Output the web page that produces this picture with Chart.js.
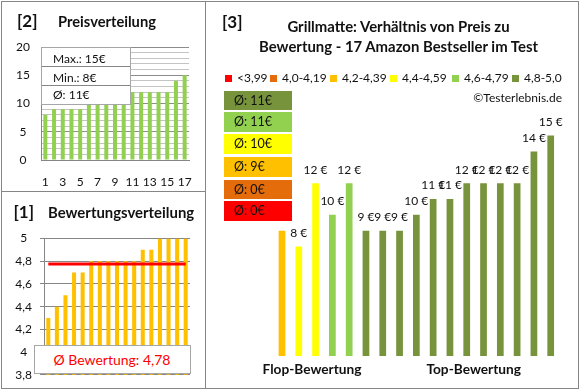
<!DOCTYPE html>
<html><head><meta charset="utf-8">
<script src="https://cdn.jsdelivr.net/npm/chart.js@4.4.1/dist/chart.umd.min.js"></script>
<style>
body{margin:0;background:#fff}
#root{position:relative;width:580px;height:390px;overflow:hidden;font-family:Lato,sans-serif;color:#111;background:#fff}
canvas{position:absolute}
.t{position:absolute;white-space:nowrap;height:20px;line-height:20px}
.ln{position:absolute;background:#868686}
.box{position:absolute;background:#fff;border:1px solid #a6a6a6;box-sizing:border-box}
</style></head><body>
<div id="root">
<canvas id="c2" width="205" height="192" style="left:0;top:0"></canvas>
<canvas id="c1" width="205" height="198" style="left:0;top:192px"></canvas>
<canvas id="c3" width="375" height="390" style="left:205px;top:0"></canvas>
</div>
<script>
// ---------- data ----------
const ranks = ['1','2','3','4','5','6','7','8','9','10','11','12','13','14','15','16','17'];
const ratings = [4.3,4.4,4.5,4.7,4.7,4.8,4.8,4.8,4.8,4.8,4.8,4.9,4.9,5,5,5,5];
const prices = [9,8,12,10,12,9,9,9,10,11,11,12,12,12,12,14,15]; // ordered like ratings
const pricesSorted = [8,9,9,9,9,10,10,11,11,12,12,12,12,12,12,14,15];
const legendLabels = ['<3,99','4,0-4,19','4,2-4,39','4,4-4,59','4,6-4,79','4,8-5,0'];
const bucketMins = [0,4.0,4.2,4.4,4.6,4.8];
const bucketColors = ['#FF0000','#E46C0A','#FFC000','#FFFF00','#92D050','#77933C'];
const groupLabels = ['Flop-Bewertung','Top-Bewertung'];
const priceTicks = [0,5,10,15,20];

Chart.defaults.font.family = 'Lato, sans-serif';
Chart.defaults.color = '#111';
Chart.defaults.animation = false;
const root = document.getElementById('root');

function T(text, x, y, o = {}) {
  const d = document.createElement('div');
  d.className = 't';
  d.textContent = text;
  d.style.left = x + 'px';
  d.style.top = (y - 10) + 'px';
  d.style.fontSize = (o.size || 12) + 'px';
  if (o.bold) d.style.fontWeight = 'bold';
  if (o.color) d.style.color = o.color;
  if (o.align === 'center') d.style.transform = 'translateX(-50%)';
  if (o.align === 'right') d.style.transform = 'translateX(-100%)';
  root.appendChild(d);
  return d;
}
function L(x, y, w, h) {
  const d = document.createElement('div');
  d.className = 'ln';
  Object.assign(d.style, {left: x + 'px', top: y + 'px', width: w + 'px', height: h + 'px'});
  root.appendChild(d);
}
function B(x, y, w, h, bg, border) {
  const d = document.createElement('div');
  d.className = 'box';
  Object.assign(d.style, {left: x + 'px', top: y + 'px', width: w + 'px', height: h + 'px'});
  if (bg) d.style.background = bg;
  if (border === false) d.style.border = 'none';
  root.appendChild(d);
  return d;
}
const fmt = v => String(v).replace('.', ',');
const bucketOf = r => { let b = 0; bucketMins.forEach((m, i) => { if (r >= m - 1e-9) b = i; }); return b; };

// ---------- panel 2: Preisverteilung ----------
new Chart(document.getElementById('c2'), {
  type: 'bar',
  data: { labels: ranks, datasets: [{ data: pricesSorted, backgroundColor: '#92D050', barPercentage: 0.46, categoryPercentage: 1 }] },
  options: {
    responsive: false, devicePixelRatio: 1,
    layout: { padding: { top: 47, right: 16, left: 0, bottom: 0 } },
    plugins: { legend: { display: false }, tooltip: { enabled: false } },
    scales: {
      x: {
        grid: { display: false },
        border: { display: true, color: '#868686' },
        ticks: { autoSkip: false, maxRotation: 0, padding: 7, font: { size: 12 },
                 callback: (v, i) => (i % 2 === 0 ? ranks[i] : '') },
        afterFit: s => { s.height = 32; }
      },
      y: {
        min: 0, max: 20,
        grid: { drawTicks: false, color: c => (c.tick && priceTicks.includes(c.tick.value) ? '#8c8c8c' : '#c4c4c4') },
        border: { display: true, color: '#868686' },
        ticks: { stepSize: 1, autoSkip: false, crossAlign: 'center', padding: 11, font: { size: 12 },
                 callback: v => (priceTicks.includes(v) ? String(v) : '') },
        afterFit: s => { s.width = 41; }
      }
    }
  }
});

// ---------- panel 1: Bewertungsverteilung ----------
const avgRating = ratings.reduce((a, b) => a + b, 0) / ratings.length;
new Chart(document.getElementById('c1'), {
  data: {
    labels: ranks,
    datasets: [
      { type: 'line', data: ratings.map(() => avgRating), borderColor: '#FF0000', borderWidth: 3, pointRadius: 0, order: 0 },
      { type: 'bar', data: ratings, backgroundColor: '#FFC000', barPercentage: 0.47, categoryPercentage: 1, order: 1 }
    ]
  },
  options: {
    responsive: false, devicePixelRatio: 1,
    layout: { padding: { top: 46.5, right: 15, left: 0, bottom: 0 } },
    plugins: { legend: { display: false }, tooltip: { enabled: false } },
    scales: {
      x: { grid: { display: false }, border: { display: false }, ticks: { display: false }, afterFit: s => { s.height = 15; } },
      y: {
        min: 3.8, max: 5,
        grid: { color: '#868686', tickLength: 4 },
        border: { display: true, color: '#868686' },
        ticks: { stepSize: 0.2, autoSkip: false, crossAlign: 'center', padding: 8, font: { size: 12 },
                 callback: v => fmt(Math.round(v * 10) / 10) },
        afterFit: s => { s.width = 44; }
      }
    }
  }
});

// ---------- panel 3: Preis vs Bewertung ----------
const valueLabels = {
  id: 'valueLabels',
  afterDatasetsDraw(chart) {
    const ctx = chart.ctx, meta = chart.getDatasetMeta(0);
    ctx.save();
    ctx.font = '12px Lato, sans-serif';
    ctx.fillStyle = '#111';
    ctx.textAlign = 'center';
    ctx.textBaseline = 'middle';
    meta.data.forEach((bar, i) => ctx.fillText(prices[i] + ' €', bar.x, bar.y - 13.5));
    ctx.restore();
  }
};
new Chart(document.getElementById('c3'), {
  type: 'bar',
  data: { labels: ranks, datasets: [{ data: prices, backgroundColor: ratings.map(r => bucketColors[bucketOf(r)]), barPercentage: 0.4, categoryPercentage: 1 }] },
  options: {
    responsive: false, devicePixelRatio: 1,
    layout: { padding: { top: 119.7, right: 20.9, left: 68.6, bottom: 34 } },
    plugins: { legend: { display: false }, tooltip: { enabled: false } },
    scales: { x: { display: false }, y: { display: false, min: 1.1, max: 16 } }
  },
  plugins: [valueLabels]
});

// ---------- overlays: panel 2 ----------
T('[2]', 17, 20.5, { size: 17, bold: true });
T('Preisverteilung', 58, 20.5, { size: 14.7, bold: true });
B(41, 47, 90, 58);
L(42, 66, 88, 1); L(42, 85, 88, 1);
const pMax = Math.max(...prices), pMin = Math.min(...prices);
const pAvg = Math.round(prices.reduce((a, b) => a + b, 0) / prices.length);
T('Max.: ' + pMax + '€', 53, 59, { size: 12 });
T('Min.: ' + pMin + '€', 53, 78, { size: 12 });
T('Ø: ' + pAvg + '€', 53, 94.5, { size: 12 });

// ---------- overlays: panel 1 ----------
T('[1]', 13.5, 211.5, { size: 17, bold: true });
T('Bewertungsverteilung', 48, 211.5, { size: 14.9, bold: true });
B(34, 345, 157, 29);
T('Ø Bewertung: ' + fmt(avgRating.toFixed(2)), 112, 359.5, { size: 14, color: '#FF0000', align: 'center' });

// ---------- overlays: panel 3 ----------
T('[3]', 222, 21.5, { size: 17, bold: true });
T('Grillmatte: Verhältnis von Preis zu', 398.5, 26, { size: 14.9, bold: true, align: 'center' });
T('Bewertung - 17 Amazon Bestseller im Test', 398.5, 46, { size: 14.9, bold: true, align: 'center' });
const legX = [237, 282, 342, 402, 464, 524];
legendLabels.forEach((lab, i) => {
  B(legX[i] - 12, 74.5, 7, 7, bucketColors[i], false);
  T(lab, legX[i], 78.3, { size: 12 });
});
T('©Testerlebnis.de', 562, 97.7, { size: 12, align: 'right' });
const boxTops = [90.5, 112, 134, 157, 179.5, 201];
[5, 4, 3, 2, 1, 0].forEach((b, k) => {
  const vals = prices.filter((p, i) => bucketOf(ratings[i]) === b);
  const avg = vals.length ? Math.round(vals.reduce((a, c) => a + c, 0) / vals.length) : 0;
  B(223.5, boxTops[k], 68, 19.5, bucketColors[b], false);
  T('Ø: ' + avg + '€', 234, boxTops[k] + 10, { size: 12.5 });
});
T(groupLabels[0], 312, 369, { size: 13.7, bold: true, align: 'center' });
T(groupLabels[1], 473.7, 369, { size: 13.7, bold: true, align: 'center' });

// ---------- frame lines ----------
L(1, 1, 577, 1); L(1, 388, 577, 1); L(1, 1, 1, 388); L(578, 1, 1, 388);
L(205, 1, 1, 388); L(1, 191, 205, 1);
</script>
</body></html>
